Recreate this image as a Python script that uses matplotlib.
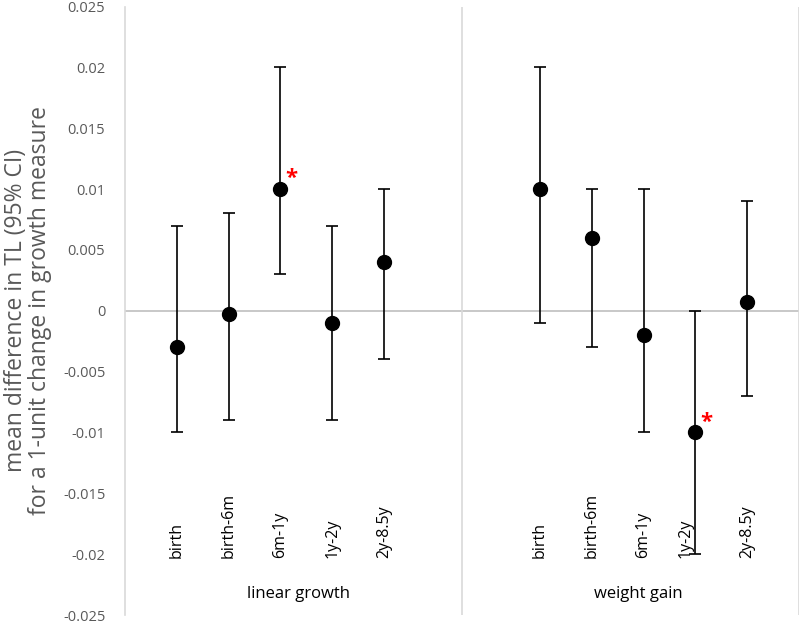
import numpy as np
import matplotlib
matplotlib.use("Agg")
import matplotlib.pyplot as plt

plt.rcParams['font.family'] = ['Open Sans', 'DejaVu Sans']

# category labels and groups
CATEGORIES = ["birth", "birth-6m", "6m-1y", "1y-2y", "2y-8.5y"]
GROUPS = ["linear growth", "weight gain"]

# estimates with 95% CI
LINEAR_EST = [-0.003, -0.0003, 0.010, -0.001, 0.004]
LINEAR_LO = [-0.010, -0.009, 0.003, -0.009, -0.004]
LINEAR_HI = [0.007, 0.008, 0.020, 0.007, 0.010]

WEIGHT_EST = [0.010, 0.006, -0.002, -0.010, 0.0007]
WEIGHT_LO = [-0.001, -0.003, -0.010, -0.020, -0.007]
WEIGHT_HI = [0.020, 0.010, 0.010, 0.000, 0.009]

# which estimates are significant (red asterisk)
LINEAR_SIG = [False, False, True, False, False]
WEIGHT_SIG = [False, False, False, True, False]

YTICKS = [-0.025, -0.02, -0.015, -0.01, -0.005, 0, 0.005, 0.01, 0.015, 0.02, 0.025]
YTICK_LABELS = ["-0.025", "-0.02", "-0.015", "-0.01", "-0.005", "0",
                "0.005", "0.01", "0.015", "0.02", "0.025"]

GRAY = "#595959"
LINE_GRAY = "#bfbfbf"


def main():
    fig = plt.figure(figsize=(8, 6.24), dpi=100)
    ax = fig.add_axes([0.156, 0.0144, 0.843, 0.975])

    groups = [
        (np.arange(1, 6), LINEAR_EST, LINEAR_LO, LINEAR_HI, LINEAR_SIG, [0] * 5),
        (np.arange(8, 13), WEIGHT_EST, WEIGHT_LO, WEIGHT_HI, WEIGHT_SIG, [0, 0, 0, -0.2, 0]),
    ]

    ax.axhline(0, color=LINE_GRAY, lw=1.2, zorder=1)
    ax.axvline(6.5, color="#d9d9d9", lw=1.2, zorder=1)
    ax.axvline(13, color="#d9d9d9", lw=1.2, zorder=1)

    for xs, est, lo, hi, sig, shift in groups:
        est = np.array(est)
        yerr = [est - np.array(lo), np.array(hi) - est]
        ax.errorbar(xs, est, yerr=yerr, fmt="o", color="black", ms=10,
                    elinewidth=1.2, capsize=4, capthick=1.2, zorder=3)
        for x, e, s in zip(xs, est, sig):
            if s:
                ax.annotate("*", (x, e), xytext=(8, 0), textcoords="offset points",
                            color="red", fontsize=16, fontweight="bold",
                            ha="center", va="bottom")
        for x, lab, dx in zip(xs, CATEGORIES, shift):
            ax.text(x + dx, -0.0203, lab, rotation=90, ha="center", va="bottom",
                    fontsize=11.5, color="black")

    ax.text(3.35, -0.0233, GROUPS[0], ha="center", va="center", fontsize=12)
    ax.text(9.9, -0.0233, GROUPS[1], ha="center", va="center", fontsize=12)

    ax.set_xlim(0, 13)
    ax.set_ylim(-0.025, 0.025)
    ax.set_xticks([])
    ax.set_yticks(YTICKS)
    ax.set_yticklabels(YTICK_LABELS, color=GRAY, fontsize=10.5)
    ax.tick_params(axis="y", length=0, pad=14)

    for side in ["top", "right", "bottom"]:
        ax.spines[side].set_visible(False)
    ax.spines["left"].set_color("#d9d9d9")
    ax.spines["left"].set_linewidth(1.2)

    ax.set_ylabel("mean difference in TL (95% CI)\nfor a 1-unit change in growth measure",
                  fontsize=16.5, color=GRAY, labelpad=8, linespacing=1.0)

    fig.savefig("out.png", dpi=100)


if __name__ == "__main__":
    main()
